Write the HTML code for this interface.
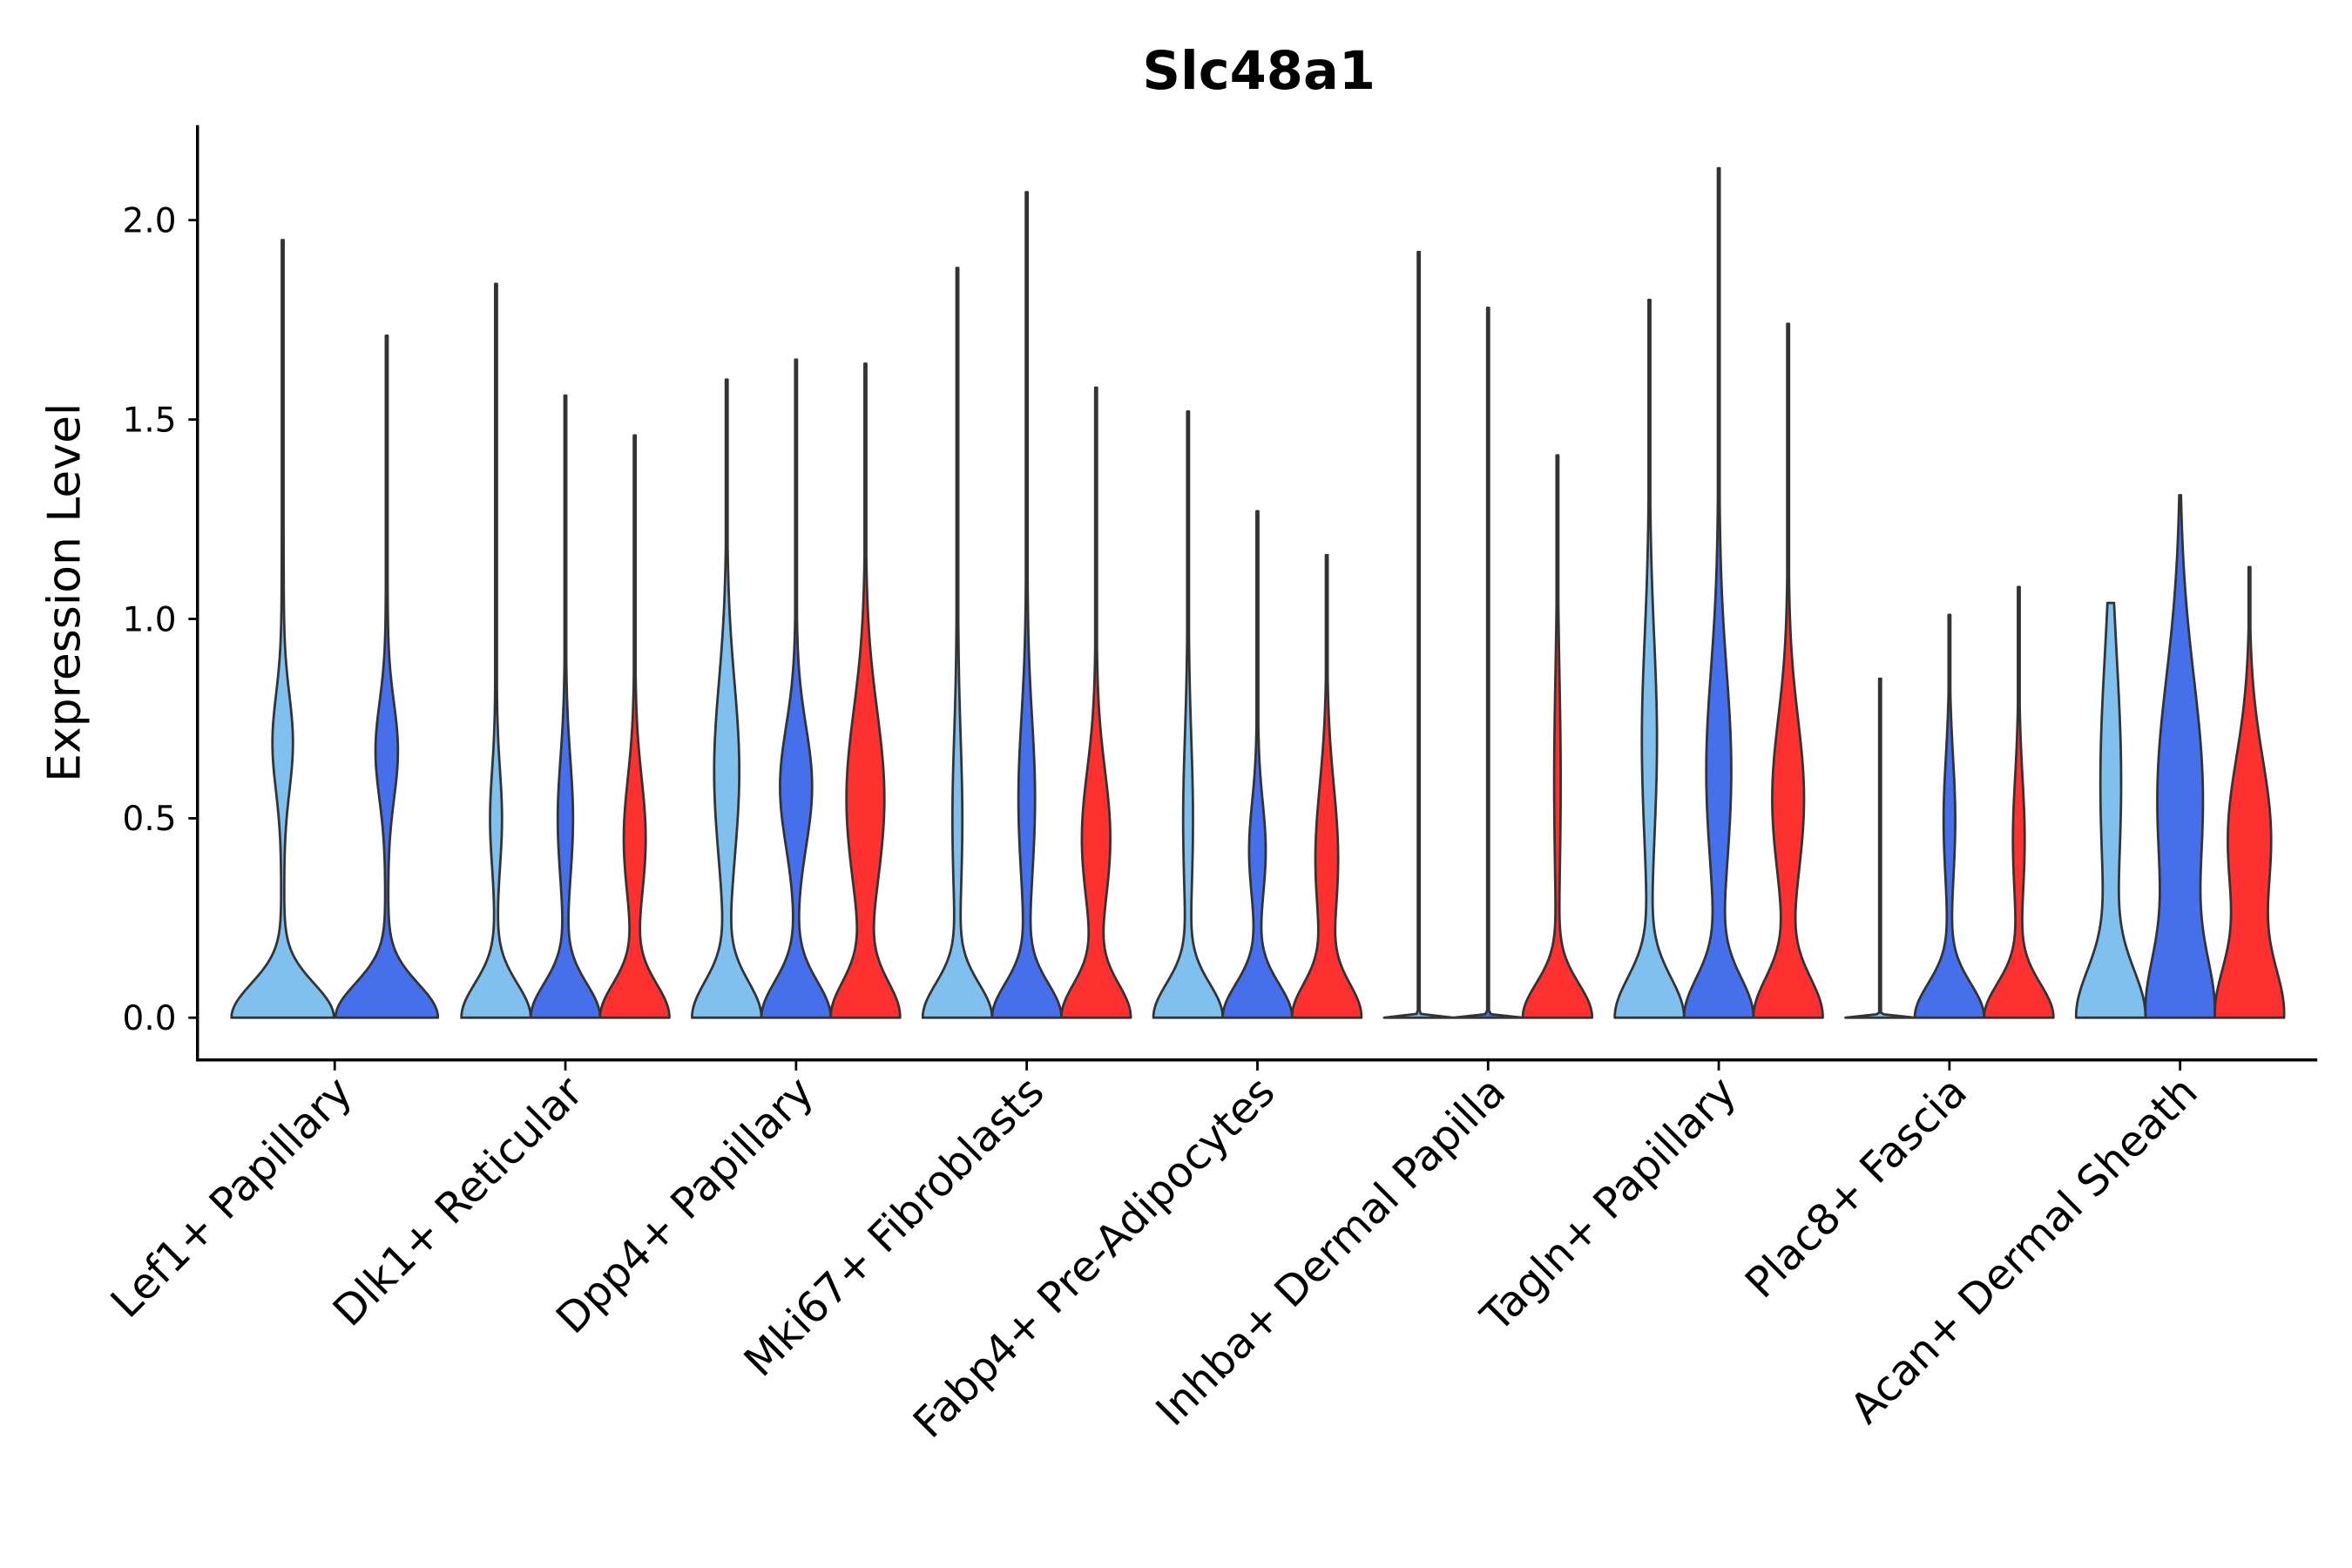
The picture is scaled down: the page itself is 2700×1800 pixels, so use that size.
<!DOCTYPE html>
<html><head><meta charset="utf-8"><style>
html,body{margin:0;padding:0;background:#fff}
svg{display:block}
text{font-family:"DejaVu Sans","Liberation Sans",sans-serif;fill:#000}
</style></head><body>
<svg id="chart" width="2700" height="1800" viewBox="0 0 1560 1040" xmlns="http://www.w3.org/2000/svg">
<text x="835" y="59" text-anchor="middle" font-size="35" font-weight="bold">Slc48a1</text>
<text transform="translate(53,393) rotate(-90)" text-anchor="middle" font-size="30">Expression Level</text>
<g id="plot"></g>
</svg>
<script>
const categories = ["Lef1+ Papillary","Dlk1+ Reticular","Dpp4+ Papillary","Mki67+ Fibroblasts","Fabp4+ Pre-Adipocytes","Inhba+ Dermal Papilla","Tagln+ Papillary","Plac8+ Fascia","Acan+ Dermal Sheath"];
const yTicks = [0, 0.5, 1.0, 1.5, 2.0];
const yTickLabels = ["0.0","0.5","1.0","1.5","2.0"];
const vCat    = [0,0, 1,1,1, 2,2,2, 3,3,3, 4,4,4, 5,5,5, 6,6,6, 7,7,7, 8,8,8];
const vSeries = [0,1, 0,1,2, 0,1,2, 0,1,2, 0,1,2, 0,1,2, 0,1,2, 0,1,2, 0,1,2];
const vTop    = [1.95,1.71, 1.84,1.56,1.46, 1.60,1.65,1.64, 1.88,2.07,1.58, 1.52,1.27,1.16, 1.92,1.78,1.41, 1.80,2.13,1.74, 0.85,1.01,1.08, 1.04,1.31,1.13];
const vBase   = [1,1, 1,1,1, 1,1,1, 1,1,1, 1,1,1, 1,1,1, 1,1,1, 1,1,1, 1,1,1];
const vBaseSd = [0.085,0.085, 0.085,0.085,0.085, 0.09,0.09,0.09, 0.085,0.085,0.085, 0.085,0.085,0.085, 0.004,0.004,0.085, 0.1,0.1,0.1, 0.004,0.085,0.085, 0.12,0.15,0.13];
const vMode   = [0.69,0.67, 0.5,0.5,0.45, 0.62,0.58,0.55, 0.5,0.55,0.45, 0.5,0.42,0.4, 0.6,0.6,0.6, 0.7,0.62,0.55, 0.5,0.5,0.45, 0.6,0.55,0.45];
const vModeD  = [0.18,0.2, 0.15,0.2,0.3, 0.35,0.45,0.55, 0.12,0.22,0.4, 0.12,0.22,0.32, 0,0,0.08, 0.2,0.35,0.45, 0,0.15,0.15, 0.3,0.75,0.65];
const vModeSd = [0.12,0.12, 0.12,0.15,0.15, 0.22,0.15,0.22, 0.2,0.2,0.17, 0.2,0.12,0.18, 0.2,0.2,0.25, 0.25,0.25,0.2, 0.2,0.15,0.15, 0.3,0.3,0.2];
const vTail   = [0.03,0.03, 0.03,0.03,0.03, 0.03,0.03,0.03, 0.03,0.03,0.03, 0.03,0.03,0.03, 0,0,0.02, 0.03,0.03,0.03, 0,0.03,0.03, 0.03,0.03,0.03];
const colors = ["#80C0EE","#4670EB","#FF3030"];

const X0=131, X1=1537, Ytop=83, Yaxis=703;
const yScale = v => 675 - v*264.5;
const xCat = i => 222 + i*153;
const svg = document.getElementById('plot');
const NS = "http://www.w3.org/2000/svg";
function mk(tag, attrs){const e=document.createElementNS(NS,tag);for(const k in attrs)e.setAttribute(k,attrs[k]);svg.appendChild(e);return e;}

for(let v=0; v<vCat.length; v++){
  const c=vCat[v];
  const n = vCat.filter(x=>x===c).length;
  const step = n===2 ? 69 : 46;
  const maxHW = n===2 ? 34 : 23;
  const cx = xCat(c) + (vSeries[v]-(n-1)/2)*step;
  const N=200, raw=[];
  for(let k=0;k<=N;k++){
    const y = vTop[v]*k/N;
    const d = vBase[v]*Math.exp(-0.5*(y/vBaseSd[v])**2) + vModeD[v]*Math.exp(-0.5*((y-vMode[v])/vModeSd[v])**2)
      + vTail[v]*Math.max(0,1-(y/vTop[v])**2);
    raw.push([y,d]);
  }
  const mx = Math.max(...raw.map(r=>r[1]));
  const pts = raw.map(([y,d])=>[y, Math.max(0.6, d/mx*maxHW)]);
  let dstr="M"+(cx-pts[0][1]).toFixed(2)+","+yScale(0).toFixed(2);
  for(const [y,hw] of pts) dstr+="L"+(cx+hw).toFixed(2)+","+yScale(y).toFixed(2);
  for(let k=pts.length-1;k>=0;k--) dstr+="L"+(cx-pts[k][1]).toFixed(2)+","+yScale(pts[k][0]).toFixed(2);
  dstr+="Z";
  const p=mk('path',{d:dstr,fill:colors[vSeries[v]],stroke:"#333333","stroke-width":1.6,"stroke-linejoin":"round"});
  
  
}

const ya=mk('line',{x1:X0,y1:Ytop,x2:X0,y2:Yaxis,stroke:"#000","stroke-width":2});


const xa=mk('line',{x1:X0-1,y1:Yaxis,x2:X1,y2:Yaxis,stroke:"#000","stroke-width":2});



yTicks.forEach((t,i)=>{
  const y=yScale(t);
  const l=mk('line',{x1:X0-6,y1:y,x2:X0,y2:y,stroke:"#000","stroke-width":1.6});
  
  
  const tx=mk('text',{x:X0-14,y:y+8,"text-anchor":"end","font-size":22.5});
  tx.textContent=yTickLabels[i];
  
  
});
categories.forEach((c,i)=>{
  const x=xCat(i);
  const l=mk('line',{x1:x,y1:Yaxis,x2:x,y2:Yaxis+7,stroke:"#000","stroke-width":1.6});
  
  
  const tx=mk('text',{transform:`translate(${x+13},${Yaxis+23}) rotate(-45)`,"text-anchor":"end","font-size":28});
  tx.textContent=c;
  
  
});
</script>
</body></html>
